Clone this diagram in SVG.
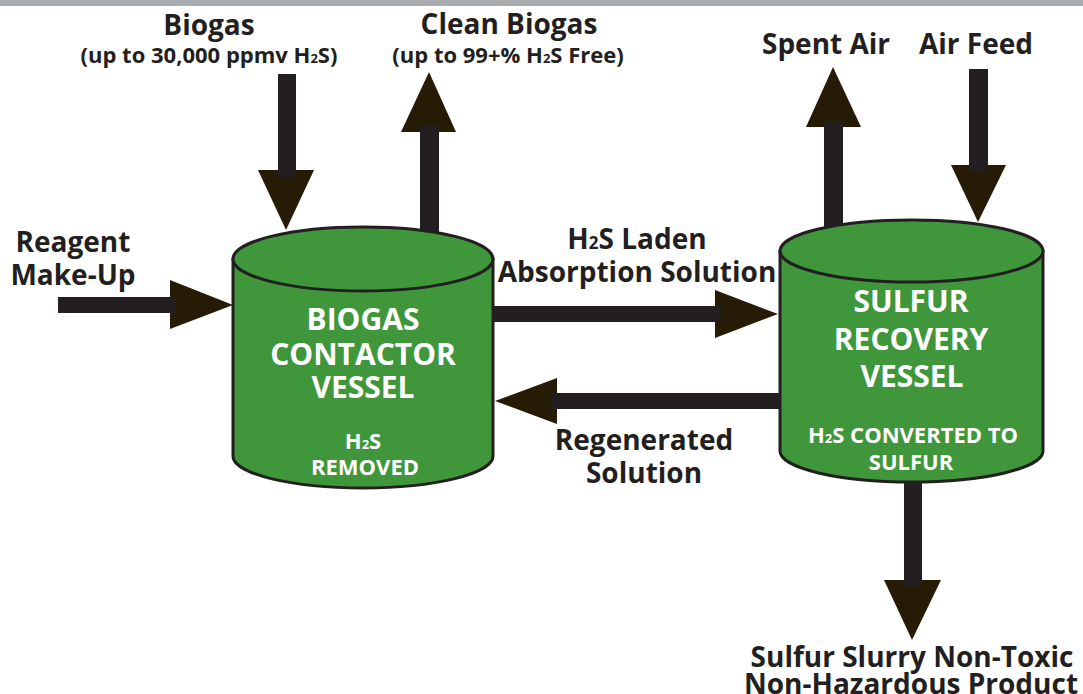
<svg xmlns="http://www.w3.org/2000/svg" width="1083" height="694" viewBox="0 0 1083 694">
<style>
.lbl{font-family:"Open Sans","Liberation Sans",sans-serif;font-weight:bold;fill:#231f20;text-anchor:middle}
.big{font-size:28px}
.sub{font-size:22px}
.wt{font-family:"Open Sans","Liberation Sans",sans-serif;font-weight:bold;fill:#ffffff;text-anchor:middle}
.ttl{font-size:30px}
.sm{font-size:22px}
.shaft{fill:#231f20}
.head{fill:#261c06}
.vessel{fill:#40963b;stroke:#231f20;stroke-width:3}
</style>
<rect x="0" y="0" width="1083" height="6" fill="#a9adb0"/>
<g id="connectors">
  <!-- Reagent make-up -->
  <polygon class="head" points="170,280 233,305 170,329"/>
  <rect class="shaft" x="58" y="297" width="118" height="16"/>
  <!-- Biogas in -->
  <polygon class="head" points="258,170 314,170 286,230"/>
  <rect class="shaft" x="278" y="74" width="18" height="103"/>
  <!-- Clean biogas out -->
  <polygon class="head" points="401,132 456,132 429,72"/>
  <rect class="shaft" x="420" y="126" width="19" height="110"/>
  <!-- Spent air -->
  <polygon class="head" points="806,127 861,127 833,67"/>
  <rect class="shaft" x="824" y="121" width="19" height="110"/>
  <!-- Air feed -->
  <polygon class="head" points="951,165 1006,165 978,222"/>
  <rect class="shaft" x="969" y="69" width="19" height="102"/>
  <!-- H2S laden -->
  <polygon class="head" points="715,290 778,314 715,338"/>
  <rect class="shaft" x="490" y="306" width="231" height="16"/>
  <!-- Regenerated -->
  <polygon class="head" points="557,378 495,401 557,424"/>
  <rect class="shaft" x="551" y="393" width="232" height="16"/>
  <!-- Sulfur slurry -->
  <polygon class="head" points="884,580 941,580 912,640"/>
  <rect class="shaft" x="904" y="475" width="18" height="111"/>
</g>
<g id="biogas-contactor">
  <path class="vessel" d="M233,259 L233,456 A130,32 0 0 0 493,456 L493,259 Z"/>
  <ellipse class="vessel" cx="363" cy="259" rx="130" ry="32"/>
  <text class="wt ttl" x="363" y="330">BIOGAS</text>
  <text class="wt ttl" x="363" y="365">CONTACTOR</text>
  <text class="wt ttl" x="363" y="398">VESSEL</text>
  <text class="wt sm" x="363" y="449">H<tspan font-size="13">2</tspan>S</text>
  <text class="wt sm" x="365" y="475">REMOVED</text>
</g>
<g id="sulfur-recovery">
  <path class="vessel" d="M780,251 L780,451 A131.5,31 0 0 0 1043,451 L1043,251 Z"/>
  <ellipse class="vessel" cx="911.5" cy="251" rx="131.5" ry="31"/>
  <text class="wt ttl" x="911" y="312">SULFUR</text>
  <text class="wt ttl" x="911" y="350">RECOVERY</text>
  <text class="wt ttl" x="912" y="387">VESSEL</text>
  <text class="wt sm" x="913" y="443">H<tspan font-size="13">2</tspan>S CONVERTED TO</text>
  <text class="wt sm" x="911" y="470">SULFUR</text>
</g>
<g id="labels">
  <text class="lbl big" x="209" y="35">Biogas</text>
  <text class="lbl sub" x="209" y="63">(up to 30,000 ppmv H<tspan font-size="13">2</tspan>S)</text>
  <text class="lbl big" x="509" y="34">Clean Biogas</text>
  <text class="lbl sub" x="508" y="63">(up to 99+% H<tspan font-size="13">2</tspan>S Free)</text>
  <text class="lbl big" x="826" y="54">Spent Air</text>
  <text class="lbl big" x="976" y="54">Air Feed</text>
  <text class="lbl big" x="73" y="252">Reagent</text>
  <text class="lbl big" x="73" y="285">Make-Up</text>
  <text class="lbl big" x="637" y="249">H<tspan font-size="17">2</tspan>S Laden</text>
  <text class="lbl big" x="637" y="282">Absorption Solution</text>
  <text class="lbl big" x="644" y="450">Regenerated</text>
  <text class="lbl big" x="644" y="483">Solution</text>
  <text class="lbl big" x="912" y="667">Sulfur Slurry Non-Toxic</text>
  <text class="lbl big" x="911" y="694">Non-Hazardous Product</text>
</g>
</svg>
